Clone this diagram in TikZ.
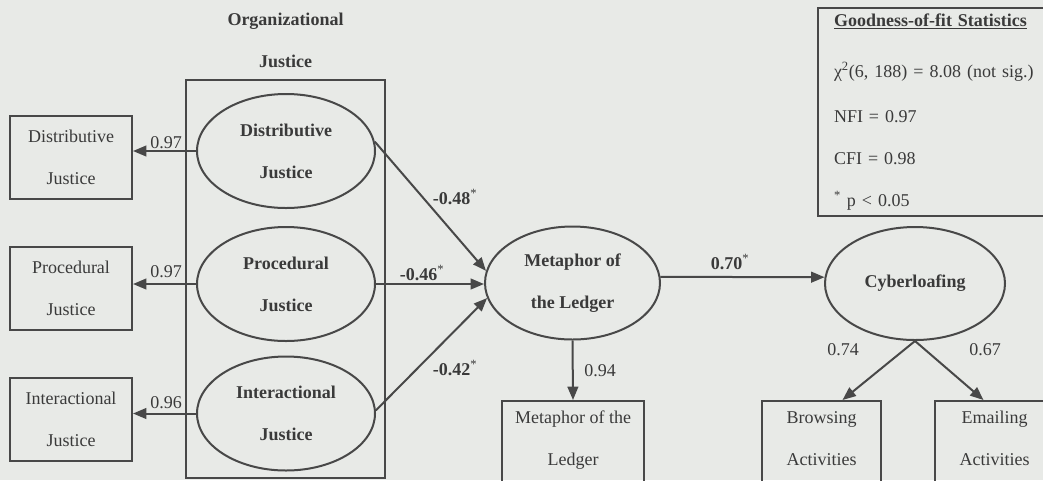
\documentclass[tikz,border=0pt]{standalone}
\usepackage{fontspec}
\setmainfont{Liberation Serif}
\usetikzlibrary{arrows.meta,shapes.geometric}
\definecolor{bgc}{RGB}{232,234,231}
\definecolor{ink}{RGB}{72,72,72}
\definecolor{txt}{RGB}{58,58,58}
\newcommand{\twoline}[2]{\begin{tabular}{@{}c@{}}#1\\#2\end{tabular}}
\newcommand{\lowtext}[2]{\raisebox{11.25pt}[\height][\depth]{\twoline{#1}{#2}}}
\begin{document}
\begin{tikzpicture}[x=0.75pt, y=-0.75pt,
  font=\fontsize{13.5}{31.5}\selectfont, text=txt,
  lat/.style={ellipse, draw=ink, line width=1.5pt, minimum width=133.5pt, minimum height=85.5pt,
    inner sep=0pt, font=\fontsize{13.5}{31.5}\selectfont\bfseries, align=center},
  obs/.style={rectangle, draw=ink, line width=1.5pt, minimum width=91.5pt, minimum height=62.25pt,
    inner sep=0pt, align=center},
  lowbox/.style={rectangle, draw=ink, line width=1.5pt, minimum height=75pt, anchor=north, inner sep=0pt},
  conn/.style={draw=ink, line width=1.5pt, -{Triangle[length=10pt,width=8pt]}},
  lbl/.style={inner sep=0pt}
]
\useasboundingbox (0,0) rectangle (1043,480);
\fill[bgc] (0,0) rectangle (1043,480);
\begin{scope}
\clip (0,0) rectangle (1043,480);

% Organizational Justice block
\node[font=\fontsize{13.5}{31.5}\selectfont\bfseries, align=center] (orgt) at (285.5,40) {Organizational\\Justice};
\node[draw=ink, line width=1.5pt, minimum width=149.25pt, minimum height=298.5pt, inner sep=0pt] (org) at (285.5,279) {};

\node[lat] (dj) at (286,151) {Distributive\\Justice};
\node[lat] (pj) at (286,284) {Procedural\\Justice};
\node[lat] (ij) at (286,413.5) {Interactional\\Justice};

% observed indicators (left)
\node[obs] (djo) at (71,157.5) {Distributive\\Justice};
\node[obs] (pjo) at (71,288) {Procedural\\Justice};
\node[obs] (ijo) at (71,419) {Interactional\\Justice};

\draw[conn] (dj.west) -- (dj.west -| djo.east);
\draw[conn] (pj.west) -- (pj.west -| pjo.east);
\draw[conn] (ij.west) -- (ij.west -| ijo.east);
\node[lbl] (l1) at (166,143) {0.97};
\node[lbl] (l2) at (166,272) {0.97};
\node[lbl] (l3) at (166,403) {0.96};

% mediator and outcome
\node[lat, minimum width=131.25pt, minimum height=84.75pt] (ml) at (572.5,283) {Metaphor of\\the Ledger};
\node[lat, minimum width=135pt, minimum height=84.75pt] (cl) at (915,283.5) {Cyberloafing};

\draw[conn] (dj.6) -- (ml.172);
\draw[conn] (pj.east) -- (pj.east -| ml.west);
\draw[conn] (ij.2) -- (ml.190);
\draw[conn] (ml.4) -- (cl.176);
\node[lbl] (l4) at (455,197) {\textbf{-0.48}\textsuperscript{*}};
\node[lbl] (l5) at (422,273) {\textbf{-0.46}\textsuperscript{*}};
\node[lbl] (l6) at (455,368) {\textbf{-0.42}\textsuperscript{*}};
\node[lbl] (l7) at (730,262) {\textbf{0.70}\textsuperscript{*}};

% lower indicators
\node[lowbox, minimum width=106.5pt] (mb) at (573,400) {\lowtext{Metaphor of the}{Ledger}};
\node[lowbox, minimum width=89.25pt] (bb) at (821.5,400) {\lowtext{Browsing}{Activities}};
\node[lowbox, minimum width=89.25pt] (eb) at (994.5,400) {\lowtext{Emailing}{Activities}};

\draw[conn] (ml.south) -- (mb.north);
\draw[conn] (cl.south) -- ([xshift=15.75pt]bb.north);
\draw[conn] (cl.south) -- ([xshift=-8.25pt]eb.north);
\node[lbl] (l8) at (600,371) {0.94};
\node[lbl] (l9) at (843,350) {0.74};
\node[lbl] (l10) at (985,350) {0.67};

% goodness-of-fit box
\node[draw=ink, line width=1.5pt, anchor=north west, minimum width=187.5pt, minimum height=156pt,
  text width=163.5pt, inner xsep=12pt, inner ysep=0pt, align=left] (gof) at (817,7)
  {\underline{\textbf{Goodness-of-fit Statistics}}\\[6.75pt]
   χ\textsuperscript{2}(6, 188) = 8.08 (not sig.)\\[2.25pt]
   NFI = 0.97\\
   CFI = 0.98\\
   \textsuperscript{*} p < 0.05};
\end{scope}
\end{tikzpicture}
\end{document}
